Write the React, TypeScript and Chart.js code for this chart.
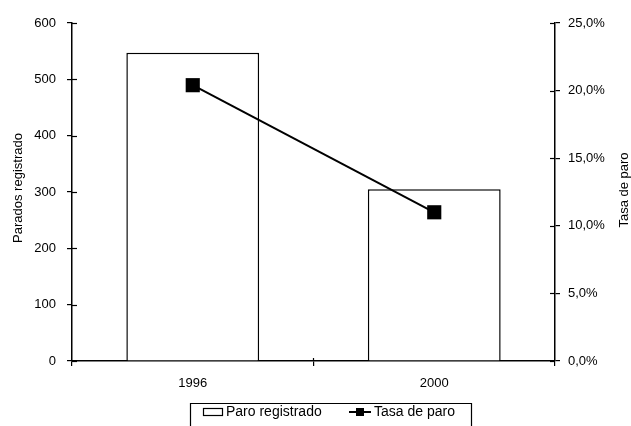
import React, { useEffect, useRef } from "react";
import { Chart, registerables } from "chart.js";

Chart.register(...registerables);

const categories: string[] = ["1996", "2000"];
const paroRegistrado: number[] = [547, 305];
const tasaParo: number[] = [20.4, 11.0];
const leftTitle = "Parados registrado";
const rightTitle = "Tasa de paro";
const barLabel = "Paro registrado";
const lineLabel = "Tasa de paro";

const FONT = "'Liberation Sans', Arial, sans-serif";

const decorPlugin = {
  id: "decor",
  afterDraw(chart: any) {
    const ctx = chart.ctx;
    const area = chart.chartArea;
    ctx.save();
    ctx.strokeStyle = "#000";
    ctx.lineWidth = 1.2;
    const y = chart.scales.y;
    const y1 = chart.scales.y1;
    y.ticks.forEach((t: any) => {
      const py = Math.round(y.getPixelForValue(t.value)) + 0.5;
      ctx.beginPath();
      ctx.moveTo(area.left, py);
      ctx.lineTo(area.left + 5, py);
      ctx.stroke();
    });
    y1.ticks.forEach((t: any) => {
      const py = Math.round(y1.getPixelForValue(t.value)) + 0.5;
      ctx.beginPath();
      ctx.moveTo(area.right, py);
      ctx.lineTo(area.right - 5, py);
      ctx.stroke();
    });
    const midX = (area.left + area.right) / 2;
    ctx.beginPath();
    ctx.moveTo(midX, area.bottom);
    ctx.lineTo(midX, area.bottom - 3);
    ctx.stroke();

    // axis titles
    ctx.fillStyle = "#000";
    ctx.font = `13px ${FONT}`;
    ctx.textAlign = "center";
    ctx.textBaseline = "middle";
    ctx.save();
    ctx.translate(18, 188);
    ctx.rotate(-Math.PI / 2);
    ctx.fillText(leftTitle, 0, 0);
    ctx.restore();
    ctx.save();
    ctx.translate(624, 190);
    ctx.rotate(-Math.PI / 2);
    ctx.fillText(rightTitle, 0, 0);
    ctx.restore();

    // legend
    const bar = chart.data.datasets.find((d: any) => d.type === "bar");
    const line = chart.data.datasets.find((d: any) => d.type === "line");
    ctx.lineWidth = 1.2;
    ctx.beginPath();
    ctx.moveTo(190.5, 430);
    ctx.lineTo(190.5, 403.5);
    ctx.lineTo(471.5, 403.5);
    ctx.lineTo(471.5, 430);
    ctx.stroke();
    ctx.fillStyle = bar.backgroundColor;
    ctx.fillRect(203, 408, 20, 8);
    ctx.strokeStyle = bar.borderColor;
    ctx.strokeRect(203.5, 408.5, 19, 7);
    ctx.fillStyle = "#000";
    ctx.font = `14px ${FONT}`;
    ctx.textAlign = "left";
    ctx.textBaseline = "middle";
    ctx.fillText(bar.label, 226, 412);
    ctx.strokeStyle = line.borderColor;
    ctx.lineWidth = 2;
    ctx.beginPath();
    ctx.moveTo(349, 412);
    ctx.lineTo(371, 412);
    ctx.stroke();
    ctx.fillStyle = line.pointBackgroundColor;
    ctx.fillRect(356, 408, 8, 8);
    ctx.fillStyle = "#000";
    ctx.fillText(line.label, 374, 412);
    ctx.restore();
  },
};

export default function App() {
  const ref = useRef<HTMLCanvasElement | null>(null);
  useEffect(() => {
    if (!ref.current) return;
    const chart = new Chart(ref.current, {
      data: {
        labels: categories,
        datasets: [
          {
            type: "line" as const,
            label: lineLabel,
            data: tasaParo,
            yAxisID: "y1",
            borderColor: "#000",
            borderWidth: 2,
            pointStyle: "rect",
            pointRadius: 10,
            pointBackgroundColor: "#000",
            pointBorderWidth: 0,
            order: 0,
          } as any,
          {
            type: "bar" as const,
            label: barLabel,
            data: paroRegistrado,
            yAxisID: "y",
            backgroundColor: "#ffffff",
            borderColor: "#000",
            borderWidth: 1.5,
            barPercentage: 0.55,
            categoryPercentage: 1,
            order: 1,
          } as any,
        ],
      },
      options: {
        animation: false,
        responsive: false,
        layout: { padding: { top: 23, bottom: 35, left: 0, right: 0 } },
        plugins: { legend: { display: false }, tooltip: { enabled: false } },
        scales: {
          x: {
            offset: true,
            grid: { drawOnChartArea: false, offset: true, tickLength: 5, color: "#000", lineWidth: 1.2 },
            border: { display: true, color: "#000", width: 1.5 },
            ticks: { color: "#000", font: { family: FONT, size: 13 }, padding: 10 },
            afterFit: (s: any) => { s.height = 30; },
          },
          y: {
            position: "left",
            min: 0,
            max: 600,
            ticks: { stepSize: 100, color: "#000", font: { family: FONT, size: 13 }, padding: 11 },
            grid: { drawOnChartArea: false, tickLength: 5, color: "#000", lineWidth: 1.2 },
            border: { display: true, color: "#000", width: 1.5 },
            afterFit: (s: any) => { s.width = 72; },
          },
          y1: {
            position: "right",
            min: 0,
            max: 25,
            ticks: {
              stepSize: 5,
              color: "#000",
              font: { family: FONT, size: 13 },
              padding: 8,
              callback: (v: any) => Number(v).toFixed(1).replace(".", ",") + "%",
            },
            grid: { drawOnChartArea: false, tickLength: 5, color: "#000", lineWidth: 1.2 },
            border: { display: true, color: "#000", width: 1.5 },
            afterFit: (s: any) => { s.width = 76; },
          },
        },
      } as any,
      plugins: [decorPlugin],
    });
    return () => chart.destroy();
  }, []);
  return (
    <div style={{ position: "fixed", left: 0, top: 0, width: 631, height: 426, background: "#fff" }}>
      <canvas ref={ref} width={631} height={426} style={{ width: 631, height: 426 }} />
    </div>
  );
}
